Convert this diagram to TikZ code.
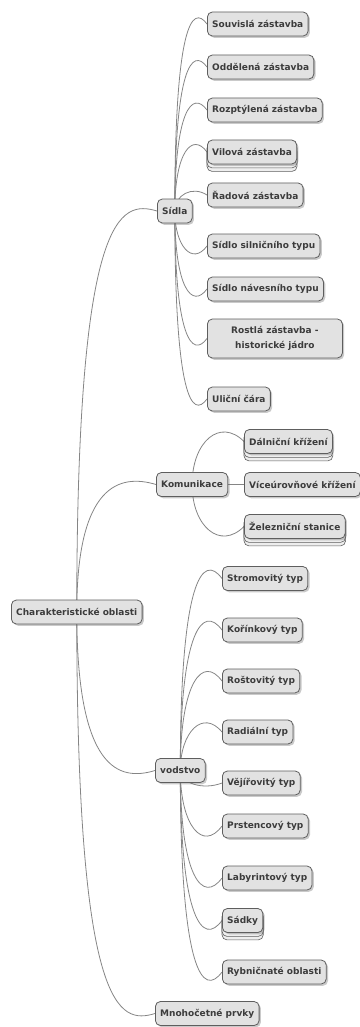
\documentclass[tikz,border=0pt]{standalone}
\usepackage{fontspec}
\setmainfont{DejaVu Sans}
\usetikzlibrary{calc,shadows}
\definecolor{mmfill}{HTML}{E2E2E2}
\definecolor{mmborder}{HTML}{5E5E5E}
\definecolor{mmtext}{HTML}{3C3C3C}
\definecolor{mmline}{HTML}{858585}
\pgfdeclarelayer{edges}\pgfdeclarelayer{stack}
\pgfsetlayers{edges,stack,main}
\newcommand\mmedge[3][20]{\begin{pgfonlayer}{edges}\draw[conn] let \p1=(#2.center), \p2=(#3.west), \n1={ifthenelse(\y2>\y1,1,-1)*min(#1,0.6*abs(\y2-\y1))} in (\p1) .. controls (\x1,\y2) and ({0.46*\x1+0.54*\x2},\y2+\n1) .. (\p2);\end{pgfonlayer}}
\newcommand\mmstack[1]{\begin{pgfonlayer}{stack}\foreach \o in {7,3.5}{\draw[stackbox] ($(#1.south west)+(0,-\o pt)$) rectangle ($(#1.north east)+(0,-\o pt)$);}\end{pgfonlayer}}
\begin{document}
\begin{tikzpicture}[x=1pt,y=-1pt,
  mm/.style={draw=mmborder, fill=mmfill, rounded corners=5pt, line width=0.8pt,
    font=\bfseries\fontsize{9}{15.5}\selectfont, text=mmtext, inner xsep=4.8pt, inner ysep=0pt,
    minimum height=24pt, anchor=west,
    drop shadow={shadow xshift=1.8pt, shadow yshift=-1.8pt, opacity=0.35, fill=black!60}},
  stackbox/.style={draw=mmborder, fill=mmfill!60!white, rounded corners=5pt, line width=0.6pt},
  conn/.style={draw=mmline, line width=0.8pt}]
\useasboundingbox (0,0) rectangle (359,1027);
% root
\node[mm] (root) at (11,612) {Charakteristické oblasti};
% Sidla
\node[mm] (sidla) at (157,211) {Sídla};
\node[mm] (s1) at (207,24) {Souvislá zástavba};
\node[mm] (s2) at (207,67) {Oddělená zástavba};
\node[mm] (s3) at (207,110) {Rozptýlená zástavba};
\node[mm] (s4) at (207,152) {Vilová zástavba};
\node[mm] (s5) at (207,195) {Řadová zástavba};
\node[mm] (s6) at (207,246) {Sídlo silničního typu};
\node[mm] (s7) at (207,289) {Sídlo návesního typu};
\node[mm, minimum width=135pt, minimum height=39pt, align=center] (s8) at (207,338.5) {Rostlá zástavba -\\historické jádro};
\node[mm] (s9) at (207,399) {Uliční čára};
% Komunikace
\node[mm] (kom) at (156,484.5) {Komunikace};
\node[mm] (k1) at (244,441.5) {Dálniční křížení};
\node[mm] (k2) at (244,484.5) {Víceúrovňové křížení};
\node[mm] (k3) at (244,526.5) {Železniční stanice};
% vodstvo
\node[mm] (vod) at (155,770.5) {vodstvo};
\node[mm] (v1) at (222,578.5) {Stromovitý typ};
\node[mm] (v2) at (222,630) {Kořínkový typ};
\node[mm] (v3) at (222,681) {Roštovitý typ};
\node[mm] (v4) at (222,732) {Radiální typ};
\node[mm] (v5) at (222,783) {Vějířovitý typ};
\node[mm] (v6) at (222,826) {Prstencový typ};
\node[mm] (v7) at (222,878) {Labyrintový typ};
\node[mm] (v8) at (222,920.5) {Sádky};
\node[mm] (v9) at (222,972) {Rybničnaté oblasti};
% Mnohocetne
\node[mm] (mno) at (155,1013.5) {Mnohočetné prvky};
% stacks
\mmstack{s4}\mmstack{k1}\mmstack{k3}\mmstack{v8}
% edges
\mmedge[11]{root}{sidla}\mmedge[11]{root}{kom}\mmedge[11]{root}{vod}\mmedge[11]{root}{mno}
\mmedge{sidla}{s1}\mmedge{sidla}{s2}\mmedge{sidla}{s3}\mmedge{sidla}{s4}\mmedge{sidla}{s5}
\mmedge{sidla}{s6}\mmedge{sidla}{s7}\mmedge{sidla}{s8}\mmedge{sidla}{s9}
\mmedge[24]{kom}{k1}\mmedge[24]{kom}{k2}\mmedge[24]{kom}{k3}
\mmedge[26]{vod}{v1}\mmedge[26]{vod}{v2}\mmedge[26]{vod}{v3}\mmedge[26]{vod}{v4}
\mmedge[26]{vod}{v5}\mmedge[26]{vod}{v6}\mmedge[26]{vod}{v7}\mmedge[26]{vod}{v8}\mmedge[26]{vod}{v9}
\end{tikzpicture}
\end{document}
